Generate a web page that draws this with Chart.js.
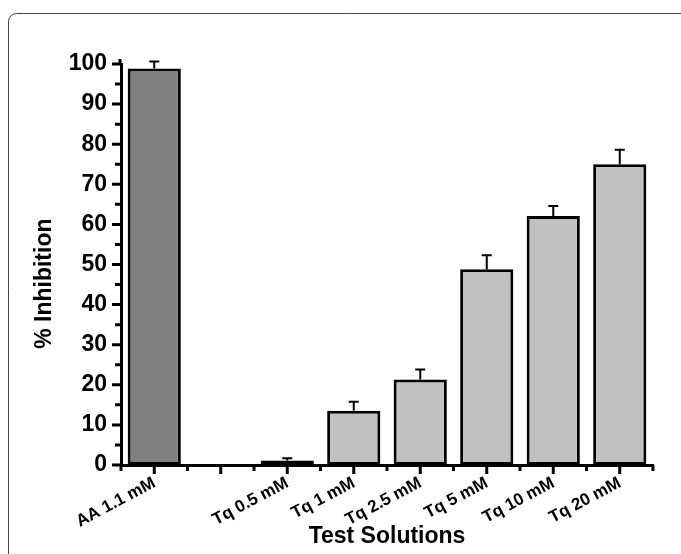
<!DOCTYPE html>
<html>
<head>
<meta charset="utf-8">
<script src="https://cdn.jsdelivr.net/npm/chart.js@4.4.1/dist/chart.umd.min.js"></script>
<style>
	body { margin: 0; background: #fff; overflow: hidden; }
</style>
</head>
<body>
<canvas id="mycanvas" width="681" height="554"></canvas>
<script>
var categories = ['AA 1.1 mM', '', 'Tq 0.5 mM', 'Tq 1 mM', 'Tq 2.5 mM', 'Tq 5 mM', 'Tq 10 mM', 'Tq 20 mM'];
var inhibition = [98.9, null, 1.1, 13.5, 21.3, 48.8, 62.1, 75.0];
var errors = [1.7, null, 0.6, 2.3, 2.5, 3.5, 2.5, 3.6];
var barColors = ['#808080', '#c0c0c0', '#c0c0c0', '#c0c0c0', '#c0c0c0', '#c0c0c0', '#c0c0c0', '#c0c0c0'];

var font = "'Liberation Sans', Arial, sans-serif";

// rounded panel frame behind the chart
var frame = {
	id: 'frame',
	beforeDraw: function(chart) {
		var ctx = chart.ctx;
		ctx.save();
		ctx.strokeStyle = '#444';
		ctx.lineWidth = 1;
		ctx.beginPath();
		ctx.roundRect(8.5, 13.5, 900, 700, 8);
		ctx.stroke();
		ctx.restore();
	}
};

// error bars + axis tick marks (major and minor)
var extras = {
	id: 'extras',
	afterDatasetsDraw: function(chart) {
		var ctx = chart.ctx;
		var x = chart.scales.x;
		var y = chart.scales.y;
		var meta = chart.getDatasetMeta(0);
		ctx.save();
		ctx.strokeStyle = '#000';
		ctx.lineWidth = 2;
		for (var i = 0; i < inhibition.length; i++) {
			if (inhibition[i] == null) continue;
			var bar = meta.data[i];
			var yTop = y.getPixelForValue(inhibition[i] + errors[i]);
			ctx.beginPath();
			ctx.moveTo(bar.x, bar.y);
			ctx.lineTo(bar.x, yTop);
			ctx.moveTo(bar.x - 5, yTop);
			ctx.lineTo(bar.x + 5, yTop);
			ctx.stroke();
		}
		ctx.lineWidth = 3;
		ctx.beginPath();
		// y axis line runs a little above 100
		ctx.moveTo(y.right - 1, y.top);
		ctx.lineTo(y.right - 1, y.top - 5);
		// y ticks
		for (var v = 0; v <= 100; v += 5) {
			var py = y.getPixelForValue(v);
			var len = (v % 10 === 0) ? 9 : 6;
			ctx.moveTo(y.right - len, py);
			ctx.lineTo(y.right, py);
		}
		// x ticks: major at centres, minor at boundaries
		var n = categories.length;
		for (var j = 0; j < n; j++) {
			var px = x.getPixelForValue(j);
			ctx.moveTo(px, x.top);
			ctx.lineTo(px, x.top + 9);
		}
		for (var k = 0; k <= n; k++) {
			var bx = x.left + (x.right - x.left) * k / n;
			ctx.moveTo(bx, x.top);
			ctx.lineTo(bx, x.top + 6);
		}
		ctx.stroke();
		ctx.restore();
	}
};

var chartdata = {
	labels: categories,
	datasets: [{
		label: '% Inhibition',
		data: inhibition,
		backgroundColor: barColors,
		borderColor: '#000',
		borderWidth: 3,
		borderSkipped: false,
		barPercentage: 0.8,
		categoryPercentage: 1.0
	}]
};

var ctx = document.getElementById('mycanvas');
var barGraph = new Chart(ctx, {
	type: 'bar',
	data: chartdata,
	plugins: [frame, extras],
	options: {
		responsive: false,
		animation: false,
		layout: { padding: { left: 27, right: 28, top: 64, bottom: 0 } },
		plugins: { legend: { display: false }, tooltip: { enabled: false } },
		scales: {
			x: {
				offset: true,
				grid: { display: false },
				border: { display: true, color: '#000', width: 3 },
				afterFit: function(s) { s.height = 89; },
				ticks: {
					color: '#000',
					autoSkip: false,
					minRotation: 28,
					maxRotation: 28,
					padding: 0,
					font: { family: font, size: 17, weight: 'bold' }
				},
				title: {
					display: true,
					text: 'Test Solutions',
					color: '#000',
					padding: { top: 4, bottom: 4 },
					font: { family: font, size: 23, weight: 'bold' }
				}
			},
			y: {
				min: 0,
				max: 100,
				grid: { display: false },
				border: { display: true, color: '#000', width: 3 },
				afterFit: function(s) { s.width = 94; },
				ticks: {
					stepSize: 10,
					color: '#000',
					padding: 6,
					font: { family: font, size: 23, weight: 'bold' }
				},
				title: {
					display: true,
					text: '% Inhibition      ',
					color: '#000',
					padding: { top: 4, bottom: 4 },
					font: { family: font, size: 23, weight: 'bold' }
				}
			}
		}
	}
});
</script>
</body>
</html>
